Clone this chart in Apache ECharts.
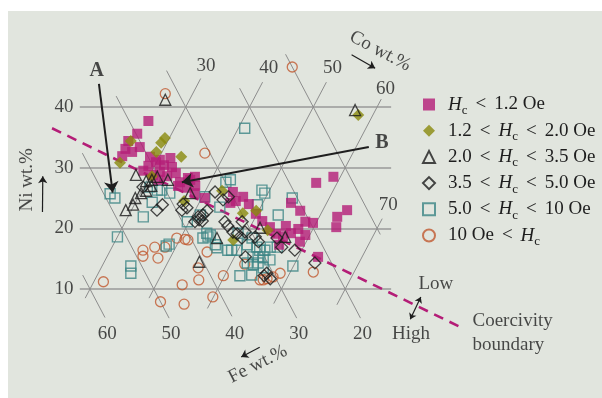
<!DOCTYPE html>
<html>
<head>
<meta charset="utf-8">
<script src="https://cdn.jsdelivr.net/npm/echarts@6/dist/echarts.min.js"></script>
<style>
  html, body { margin: 0; padding: 0; background: #ffffff; }
  #chart { width: 602px; height: 398px; }
</style>
</head>
<body>
<div id="chart"></div>
<script>
// Fe–Co–Ni alloy compositions grouped by coercivity class.
// Every point is [Co wt.%, Ni wt.%]; Fe wt.% = 100 - Co - Ni.
const hcBelow12 = [
  [25.3,37.7],[24.6,35.6],[23.8,34.4],[24.0,33.1],[25.3,32.6],[24.1,31.9],[26.1,33.4],[28.5,31.8],
  [29.9,30.9],[29.0,30.3],[31.4,30.4],[31.8,31.6],[32.8,30.1],[31.3,29.3],[32.8,28.6],[33.9,29.1],
  [35.3,27.6],[36.2,28.3],[37.2,28.5],[36.9,26.7],[35.3,27.0],[30.5,28.8],[28.6,29.5],[31.7,28.0],
  [30.3,31.3],[38.0,27.0],[36.7,28.0],
  [38.5,25.8],[40.5,25.0],[44.4,26.0],[45.6,24.5],[47.9,24.0],[49.8,22.4],[51.4,21.2],[53.1,20.2],
  [54.6,19.1],[55.9,18.7],[56.9,19.2],[57.7,19.9],[58.2,21.1],[56.5,22.9],[54.4,24.2],[59.5,20.9],
  [56.7,27.5],[58.9,28.5],[63.8,23.0],[62.8,21.9],[63.5,20.2],[63.1,15.3],[56.0,17.3],[44.9,24.2],
  [46.4,25.2],[55.5,20.4],[59.3,18.9],[59.0,17.8]
];
const hc12to20 = [
  [24.2,34.4],[24.3,30.8],[29.1,32.6],[29.1,34.1],[29.3,34.9],[33.4,31.8],[30.4,28.6],[37.5,24.5],
  [42.6,26.2],[47.7,22.5],[49.6,22.9],[53.0,19.7],[48.4,18.1],[57.7,38.7]
];
const hc20to35 = [
  [26.2,41.2],[56.8,39.5],[27.8,28.8],[29.9,27.8],[31.3,28.5],[33.2,28.0],[29.1,23.0],[29.8,23.9],
  [29.6,25.0],[30.1,25.8],[44.9,14.5],[45.7,18.4],[51.6,20.1],[56.3,18.6],[37.8,25.8],[30.7,26.2],
  [31.1,27.0],[30.7,28.0]
];
const hc35to50 = [
  [29.9,26.8],[34.0,23.0],[34.4,23.9],[37.6,24.0],[37.9,23.0],[38.5,23.4],[41.0,21.9],[42.0,21.2],
  [41.6,22.2],[41.9,22.9],[40.9,21.1],[41.6,26.0],[44.1,25.2],[45.6,21.1],[46.4,20.4],[47.7,19.4],
  [48.5,19.1],[49.6,18.4],[48.3,21.1],[49.6,19.4],[51.6,18.6],[52.5,17.8],[55.1,18.4],[56.6,16.9],
  [58.9,16.4],[51.7,15.3],[56.4,12.6],[57.4,11.7],[63.1,14.3],[43.5,24.7],[41.4,21.4],[56.2,12.2]
];
const hc50to10 = [
  [25.3,25.7],[26.4,25.0],[30.0,18.6],[34.5,13.8],[35.1,12.6],[32.4,21.9],[32.6,24.3],[32.4,26.3],
  [33.1,26.3],[34.6,25.8],[38.4,17.1],[38.7,17.4],[39.7,21.1],[40.4,25.2],[44.2,18.6],[46.5,16.8],
  [48.4,16.4],[42.5,27.6],[41.0,36.5],[48.8,26.3],[49.5,25.8],[54.2,25.0],[43.6,23.5],[49.3,23.9],
  [53.4,22.2],[41.2,22.2],[43.7,19.2],[44.4,18.9],[43.5,18.4],[46.0,17.3],[49.0,16.4],[49.8,16.4],
  [51.0,17.3],[51.2,18.4],[52.7,16.9],[53.4,16.4],[52.9,15.3],[53.7,15.3],[54.5,15.3],[54.2,16.4],
  [54.2,14.3],[53.6,14.0],[52.5,14.3],[52.4,12.2],[54.2,12.3],[55.4,13.5],[55.8,14.8],[55.9,16.9],
  [59.9,13.8],[48.6,19.2],[54.8,16.9],[31.0,26.8],[43.0,28.0]
];
const hcAbove10 = [
  [25.7,42.2],[36.8,32.4],[43.4,46.6],[31.5,11.2],[35.1,16.4],[35.6,15.4],[36.7,16.9],[38.1,15.1],
  [38.3,16.9],[39.4,18.4],[40.8,18.2],[41.3,18.1],[42.1,7.9],[44.1,10.7],[46.0,7.5],[45.2,13.5],
  [46.3,11.5],[45.3,16.1],[49.9,8.7],[49.8,12.2],[52.2,14.1],[55.9,11.5],[56.4,11.5],[56.9,11.7],
  [57.7,12.0],[58.5,12.6],[63.6,12.8]
];

// Coercivity boundary (Low above, High below), as [Co, Ni] end points
const boundary = [[10.8, 36.5], [91.5, 3.6]];

// Ternary grid: iso-Ni lines, iso-Co lines [Co, Ni from, Ni to], iso-Fe lines [Fe, Ni from, Ni to]
const niTicks = [10, 20, 30, 40];
const coLines = [[30, 8.5, 44.7], [40, 8.5, 44.1], [50, 6.8, 44.1], [60, 7.6, 41.3], [70, 7.4, 21.6]];
const feLines = [[60, 5.3, 12.3], [50, 5.2, 32.4], [40, 5.5, 41.8], [30, 5.2, 46.0], [20, 5.2, 43.1], [10, 19.0, 48.7]];
const coTicks = [30, 40, 50, 60, 70];
const feTicks = [60, 50, 40, 30, 20];

const classNames = ['Hc < 1.2 Oe', '1.2 < Hc < 2.0 Oe', '2.0 < Hc < 3.5 Oe',
                    '3.5 < Hc < 5.0 Oe', '5.0 < Hc < 10 Oe', '10 Oe < Hc'];

// ---------------------------------------------------------------------------
const FONT = '"Liberation Serif", "Times New Roman", serif';
const INK = '#1e1e1e';
const GRID_GREY = '#8d8d8d';

// Ternary composition -> cartesian plane (x = Co + Ni/2, y = Ni)
const xy = (co, ni) => [co + ni / 2, ni];
const xyFe = (fe, ni) => xy(100 - fe - ni, ni);

const chart = echarts.init(document.getElementById('chart'), null, { renderer: 'canvas' });

const gridSegments = [];
niTicks.forEach(n => gridSegments.push({
  coords: [[33.4, n], [82.2, n]],
  lineStyle: { color: '#989898', width: 1.6 }
}));
coLines.forEach(([v, a, b]) => gridSegments.push({ coords: [xy(v, a), xy(v, b)] }));
feLines.forEach(([v, a, b]) => gridSegments.push({ coords: [xyFe(v, a), xyFe(v, b)] }));

function textSeries(name, items, label) {
  return {
    type: 'scatter', name, silent: true, clip: false, z: 6,
    symbol: 'circle', symbolSize: 1, itemStyle: { color: 'rgba(0,0,0,0)' },
    data: items.map(d => ({ value: d[0], name: d[1] })),
    label: Object.assign({
      show: true, position: 'inside', formatter: '{b}',
      fontFamily: FONT, fontSize: 19, color: INK
    }, label)
  };
}

function arrowSeries(name, segs, width, size, both) {
  return {
    type: 'lines', name, coordinateSystem: 'cartesian2d', silent: true, z: 7,
    symbol: both ? ['arrow', 'arrow'] : ['none', 'arrow'],
    symbolSize: size,
    lineStyle: { color: INK, width, opacity: 1 },
    data: segs.map(s => ({ coords: s }))
  };
}

const markerStyles = [
  { symbol: 'rect', size: 10, item: { color: '#b41d77' } },
  { symbol: 'diamond', size: 12, item: { color: '#8a8a0c' } },
  { symbol: 'triangle', size: 11, item: { color: 'rgba(0,0,0,0)', borderColor: '#1a1a1a', borderWidth: 1.3 } },
  { symbol: 'diamond', size: 12, item: { color: 'rgba(0,0,0,0)', borderColor: '#1a1a1a', borderWidth: 1.3 } },
  { symbol: 'rect', size: 10, item: { color: 'rgba(0,0,0,0)', borderColor: '#3b8585', borderWidth: 1.4 } },
  { symbol: 'circle', size: 10, item: { color: 'rgba(0,0,0,0)', borderColor: '#c0592f', borderWidth: 1.3 } }
];
const classData = [hcBelow12, hc12to20, hc20to35, hc35to50, hc50to10, hcAbove10];
const drawOrder = [5, 4, 0, 1, 3, 2];

const scatterSeries = classNames.map((name, i) => ({
  type: 'scatter', name, clip: false,
  z: 3 + drawOrder.indexOf(i) * 0.1,
  symbol: markerStyles[i].symbol,
  symbolSize: markerStyles[i].size,
  itemStyle: markerStyles[i].item,
  data: classData[i].map(p => xy(p[0], p[1]))
}));

const legendRich = {
  t: { fontFamily: FONT, fontSize: 19, color: INK, lineHeight: 22 },
  i: { fontFamily: FONT, fontSize: 19, fontStyle: 'italic', color: INK, lineHeight: 22 },
  s: { fontFamily: FONT, fontSize: 13, color: INK, lineHeight: 10, padding: [12, 0, 0, 0] },
  o: { fontFamily: FONT, fontSize: 19, color: INK, lineHeight: 22, padding: [0, 8, 0, 8] }
};
const legendText = {
  'Hc < 1.2 Oe': '{i|H}{s|c}{o|<}{t|1.2 Oe}',
  '1.2 < Hc < 2.0 Oe': '{t|1.2}{o|<}{i|H}{s|c}{o|<}{t|2.0 Oe}',
  '2.0 < Hc < 3.5 Oe': '{t|2.0}{o|<}{i|H}{s|c}{o|<}{t|3.5 Oe}',
  '3.5 < Hc < 5.0 Oe': '{t|3.5}{o|<}{i|H}{s|c}{o|<}{t|5.0 Oe}',
  '5.0 < Hc < 10 Oe': '{t|5.0}{o|<}{i|H}{s|c}{o|<}{t|10 Oe}',
  '10 Oe < Hc': '{t|10 Oe}{o|<}{i|H}{s|c}'
};

const option = {
  backgroundColor: '#ffffff',
  animation: false,
  graphic: [{
    type: 'rect', z: -10, silent: true,
    shape: { x: 8, y: 11, width: 594, height: 387 },
    style: { fill: '#e1e5de' }
  }],
  grid: { left: 26.2, top: 46.35, width: 446.6, height: 333.68, containLabel: false },
  xAxis: { type: 'value', min: 25, max: 95, show: false },
  yAxis: { type: 'value', min: -5, max: 50, show: false },
  legend: {
    orient: 'vertical', left: 422, top: 92, padding: 0,
    itemWidth: 12, itemHeight: 12, itemGap: 1.2,
    selectedMode: false,
    data: classNames,
    formatter: name => legendText[name],
    textStyle: { fontFamily: FONT, fontSize: 19, color: INK, rich: legendRich, padding: [0, 0, 0, 8] }
  },
  series: [
    {
      type: 'lines', name: 'grid', coordinateSystem: 'cartesian2d', silent: true, z: 1,
      lineStyle: { color: GRID_GREY, width: 1, opacity: 1 },
      data: gridSegments
    },
    {
      type: 'lines', name: 'boundary', coordinateSystem: 'cartesian2d', silent: true, z: 2,
      lineStyle: { color: '#b41d77', width: 2.6, type: [10, 7], opacity: 1 },
      data: [{ coords: boundary.map(p => xy(p[0], p[1])) }]
    },
    ...scatterSeries,
    // tick values along the three composition axes
    textSeries('Ni ticks', niTicks.map(v => [xy(32.5 - v / 2, v), String(v)]), { position: 'left', distance: 0 }),
    textSeries('Co ticks', coTicks.map((v, k) => [xy(v - 0.2, [46.8, 46.4, 46.4, 43.0, 23.9][k]), String(v)]), {}),
    textSeries('Fe ticks', feTicks.map(v => [xyFe(v + 1, 2.6), String(v)]), {}),
    // axis titles
    textSeries('Ni title', [[xy(11.1, 28.0), 'Ni wt.%']], { rotate: 90 }),
    textSeries('Co title', [[xy(55.9, 49.2), 'Co wt.%']], { rotate: -28 }),
    textSeries('Fe title', [[xy(62.5, -2.4), 'Fe wt.%']], { rotate: 27 }),
    arrowSeries('axis arrows', [
      [xy(16.2, 22.7), xy(13.3, 28.6)],
      [xy(51.7, 48.6), xy(56.5, 46.4)],
      [xy(61.4, 0.4), xy(59.3, -1.2)]
    ], 1.2, 7, false),
    // A / B call-outs
    textSeries('callout labels', [[xy(13.1, 45.9), 'A'], [xy(63.7, 34.1), 'B']], { fontWeight: 'bold', fontSize: 20 }),
    arrowSeries('callouts', [
      [xy(14.5, 43.8), xy(25.6, 25.9)],
      [xy(62.0, 33.4), xy(35.6, 27.6)]
    ], 2, 11, false),
    // boundary annotation
    textSeries('low high', [[xy(83.8, 10.8), 'Low'], [xy(84.0, 2.6), 'High']], {}),
    arrowSeries('low high arrow', [[xy(82.5, 8.7), xy(82.7, 5.0)]], 1.2, 6, true),
    textSeries('boundary label', [[xy(93.5, 2.75), 'Coercivity\nboundary']],
      { position: 'right', distance: 0, align: 'left', lineHeight: 24 })
  ]
};

chart.setOption(option);
</script>
</body>
</html>
